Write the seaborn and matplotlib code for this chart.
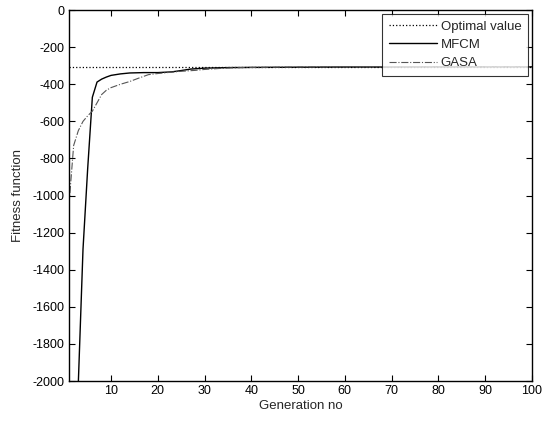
import matplotlib
matplotlib.use("Agg")
import matplotlib.pyplot as plt
import seaborn as sns
import pandas as pd

sns.set_theme(style="white")
plt.rcParams['font.family'] = ['Liberation Sans', 'DejaVu Sans']

# Data
mfcm_gen = [1, 2, 3, 4, 5, 6, 7, 8, 9, 10, 12, 14, 17, 20, 23, 25, 27, 30, 35, 40, 50, 60, 70, 80, 90, 100]
mfcm_val = [-3000, -2500, -2010, -1290, -855, -470, -388, -372, -361, -352, -344, -339, -337, -337,
            -333, -326, -318, -313, -310, -309, -308, -307, -307, -306, -306, -306]

gasa_gen = [1, 2, 3, 4, 5, 6, 7, 8, 9, 10, 12, 14, 16, 18, 20, 22, 25, 28, 30, 33, 36, 40, 50, 60, 80, 100]
gasa_val = [-1050, -730, -650, -600, -570, -545, -500, -455, -432, -418, -400, -385, -366, -348,
            -342, -337, -330, -325, -320, -315, -311, -309, -307, -306, -306, -306]

opt_gen = [1, 100]
opt_val = [-305, -305]

x_ticks = [10, 20, 30, 40, 50, 60, 70, 80, 90, 100]
y_ticks = [0, -200, -400, -600, -800, -1000, -1200, -1400, -1600, -1800, -2000]

fig = plt.figure(figsize=(5.54, 4.21), dpi=100)
ax = fig.add_axes([0.1245, 0.095, 0.8355, 0.881])

sns.lineplot(x=opt_gen, y=opt_val, ax=ax, color="black", linestyle=":", linewidth=0.9,
             label="Optimal value")
sns.lineplot(x=mfcm_gen, y=mfcm_val, ax=ax, color="black", linestyle="-", linewidth=1.0,
             label="MFCM")
sns.lineplot(x=gasa_gen, y=gasa_val, ax=ax, color="#555555", linestyle="-.", linewidth=0.8,
             label="GASA")

ax.set_xlim(1, 100)
ax.set_ylim(-2000, 0)
ax.set_xticks(x_ticks)
ax.set_yticks(y_ticks)
ax.set_xticklabels([str(t) for t in x_ticks])
ax.set_yticklabels([str(t) for t in y_ticks])
ax.tick_params(direction="in", length=4, width=0.8, top=True, right=True, bottom=True, left=True,
               labelsize=9, colors="black", pad=3)
for s in ax.spines.values():
    s.set_color("black")
    s.set_linewidth(1.0)
ax.set_xlabel("Generation no", fontsize=9.5, labelpad=2)
ax.set_ylabel("Fitness function", fontsize=9.5, labelpad=6)
ax.grid(False)

leg = ax.legend(loc="upper right", fontsize=9.5, frameon=True, fancybox=False,
                edgecolor="black", handlelength=3.6, borderpad=0.5, labelspacing=0.45,
                handletextpad=0.3, borderaxespad=0.3)
leg.get_frame().set_linewidth(0.8)

fig.savefig("out.png", dpi=100)
